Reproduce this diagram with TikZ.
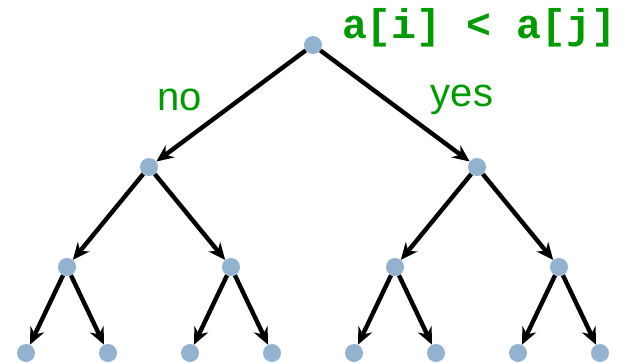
\documentclass[tikz,border=0pt]{standalone}
\usepackage{fontspec}
\usepackage{tikz}
\usetikzlibrary{arrows.meta}
\newfontfamily\codefont{Liberation Mono}
\newfontfamily\labelfont{Liberation Sans}
\definecolor{dotblue}{RGB}{146,178,208}
\definecolor{ansgreen}{RGB}{0,155,0}

\begin{document}
\begin{tikzpicture}[x=1pt, y=1pt,
				   every node/.style={circle, fill=dotblue, inner sep=0pt, minimum size=18pt},
				   edge from parent/.style={draw, line width=4.4pt, -{Stealth[length=17pt, width=15pt]}},
				   level 1/.style={level distance=122pt, sibling distance=328pt},
				   level 2/.style={level distance=100pt, sibling distance=164pt},
				   level 3/.style={level distance=86pt, sibling distance=82pt}]
\useasboundingbox (0,0) rectangle (624,-362);
\node (R) at (313,-45) {}
	child {node (L) {}
		child {node (LL) {}
			child {node (LLL) {}}
			child {node (LLR) {}}
		}
		child {node (LR) {}
			child {node (LRL) {}}
			child {node (LRR) {}}
		}
	}
	child {node (Rt) {}
		child {node (RL) {}
			child {node (RLL) {}}
			child {node (RLR) {}}
		}
		child {node (RR) {}
			child {node (RRL) {}}
			child {node (RRR) {}}
		}
	}
;
\node[rectangle, fill=none, text=ansgreen, font=\codefont\bfseries\fontsize{41.5}{41.5}\selectfont] (test) at (479,-28) {a[i] < a[j]};
\node[rectangle, fill=none, text=ansgreen, font=\labelfont\fontsize{40}{40}\selectfont] (no) at (180,-100) {no};
\node[rectangle, fill=none, text=ansgreen, font=\labelfont\fontsize{40}{40}\selectfont] (yes) at (462,-100) {yes};
\end{tikzpicture}
\end{document}
